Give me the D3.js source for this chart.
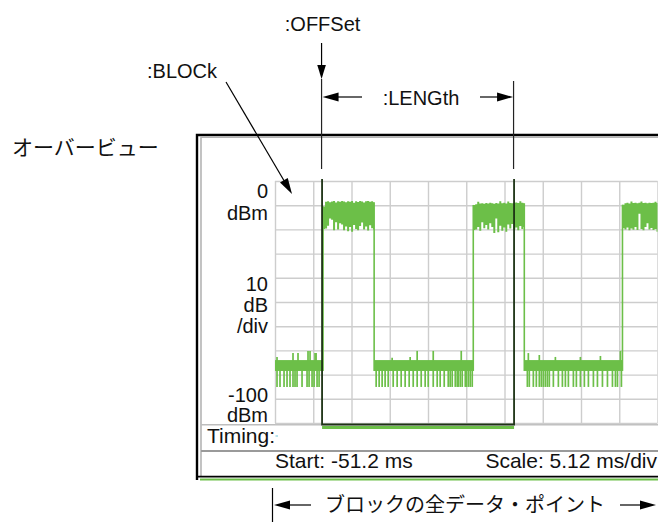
<!DOCTYPE html>
<html>
<head>
<meta charset="utf-8">
<script src="https://cdn.jsdelivr.net/npm/d3@7"></script>
<style>
  html, body { margin: 0; padding: 0; background: #fff; }
  svg { display: block; }
  text { font-family: "Liberation Sans", Arial, Helvetica, sans-serif; fill: #111; }
  .jp { font-family: "Noto Sans CJK JP", sans-serif; }
</style>
</head>
<body>
<svg id="chart" width="658" height="522"></svg>
<script>
// ---- Sweep settings ----
const timeStart = -51.2;      // ms
const timeScale = 5.12;       // ms/div
const timeDivisions = 10;
const levelRef = 0;           // dBm at top
const levelPerDiv = 10;       // dB/div
const levelDivisions = 10;

// ---- Labels ----
const levelLabelTop = ["0", "dBm"];
const levelLabelMid = ["10", "dB", "/div"];
const levelLabelBottom = ["-100", "dBm"];
const timingLabel = "Timing:";
const startLabel = "Start: -51.2 ms";
const scaleLabel = "Scale: 5.12 ms/div";
const overviewLabel = "オーバービュー";
const allPointsLabel = "ブロックの全データ・ポイント";
const offsetLabel = ":OFFSet";
const lengthLabel = ":LENGth";
const blockLabel = ":BLOCk";

// ---- Block markers (ms) ----
const blockOffset = -44.9;
const blockLength = 25.7;

// ---- Burst edges (ms) ----
const burstStart = [-44.77, -24.66, -4.69];
const burstEnd   = [-37.93, -17.83, 0];

// ---- Burst envelopes: [time ms, upper dBm, lower dBm] ----
const burst1 = [
  [-44.77, -10.5, -19.8], [-44.50, -8.6, -19.6], [-44.23, -8.4, -18.5], [-43.96, -8.8, -15.5],
  [-43.69, -8.5, -16.0], [-43.43, -8.3, -20.3], [-43.16, -8.9, -17.0], [-42.89, -8.4, -20.0],
  [-42.62, -8.6, -17.5], [-42.35, -8.3, -18.0], [-42.09, -8.5, -20.4], [-41.82, -8.8, -18.8],
  [-41.55, -8.4, -20.8], [-41.28, -8.6, -19.0], [-41.01, -8.3, -21.0], [-40.75, -9.0, -18.2],
  [-40.48, -8.4, -19.8], [-40.21, -8.7, -20.4], [-39.94, -8.3, -18.6], [-39.67, -8.5, -17.2],
  [-39.41, -8.9, -20.0], [-39.14, -8.4, -18.8], [-38.87, -8.3, -20.5], [-38.60, -8.6, -18.3],
  [-38.33, -8.4, -19.5], [-38.07, -8.8, -20.0]
];
const burst2 = [
  [-24.66, -9.9, -20.2], [-24.40, -9.6, -20.0], [-24.13, -8.6, -19.0], [-23.86, -9.3, -20.6],
  [-23.59, -9.2, -17.0], [-23.32, -9.4, -19.5], [-23.05, -9.1, -18.2], [-22.79, -9.3, -20.0],
  [-22.52, -9.0, -17.5], [-22.25, -9.2, -19.0], [-21.98, -9.4, -21.5], [-21.71, -9.1, -15.5],
  [-21.45, -9.3, -21.2], [-21.18, -8.4, -18.5], [-20.91, -9.2, -20.6], [-20.64, -9.0, -19.2],
  [-20.37, -9.3, -21.0], [-20.11, -8.5, -18.0], [-19.84, -9.1, -19.6], [-19.57, -9.2, -17.8],
  [-19.30, -9.0, -20.0], [-19.03, -8.9, -19.2], [-18.77, -9.1, -20.4], [-18.50, -8.4, -18.6],
  [-18.23, -9.0, -19.8], [-17.96, -9.2, -19.0]
];
const burst3 = [
  [-4.69, -9.8, -19.5], [-4.42, -9.2, -20.0], [-4.15, -9.0, -19.2], [-3.89, -9.3, -20.3],
  [-3.62, -8.5, -19.6], [-3.35, -9.1, -20.1], [-3.08, -9.0, -19.0], [-2.81, -9.2, -20.2],
  [-2.55, -9.0, -13.5], [-2.28, -8.5, -19.8], [-2.01, -9.1, -20.4], [-1.74, -9.0, -19.0],
  [-1.47, -9.2, -17.5], [-1.21, -9.0, -20.0], [-0.94, -9.1, -19.4], [-0.67, -9.0, -20.2],
  [-0.40, -8.6, -19.8], [-0.13, -9.1, -21.0]
];

// ---- Off-state floor ----
const floorUpper = -74.0;
const floorLower = -78.5;
const floorSegments = [[-51.2, -44.77], [-37.93, -24.66], [-17.83, -4.69]];
const floorDips = [
  -50.93, -50.53, -49.99, -49.59, -49.19, -48.79, -48.52, -48.25, -47.58, -46.91,
  -46.64, -46.24, -45.97, -45.57, -45.30,
  -37.66, -37.26, -36.86, -36.46, -36.05, -35.38, -34.85, -34.31, -33.78, -33.24,
  -32.70, -32.17, -31.63, -31.10, -30.69, -30.02, -29.49, -29.09, -28.55, -28.01,
  -27.75, -27.48, -27.07, -26.81, -26.67, -26.40, -26.14, -25.73, -25.60, -25.33,
  -25.07, -24.80,
  -17.42, -17.16, -16.62, -16.22, -15.82, -15.55, -15.28, -15.01, -14.74, -14.48,
  -13.94, -13.27, -12.73, -12.33, -11.93, -11.26, -10.86, -10.32, -9.79, -9.25,
  -8.58, -8.04, -7.37, -6.70, -6.03, -5.63, -5.36, -4.83
];
const floorDipLevel = -85.1;
const floorPeaks = [
  [-50.93, -72.7], [-48.79, -71.1], [-48.12, -71.1], [-46.78, -70.2], [-46.51, -70.2],
  [-45.84, -71.1], [-45.70, -71.1],
  [-35.52, -73.0], [-33.11, -72.7], [-32.17, -70.2], [-30.02, -70.2], [-26.27, -70.2],
  [-17.29, -71.1], [-15.82, -71.9], [-13.67, -72.7], [-10.32, -72.7], [-7.64, -72.3], [-4.96, -70.2]
];

// ---- Layout ----
const plot = { left: 275, right: 657.5, top: 181, bottom: 423 };
const green = "#6cbf48";
const markerColor = "#1d3315";
const gridColor = "#cdcdcd";

const svg = d3.select("#chart");

const x = d3.scaleLinear()
  .domain([timeStart, timeStart + timeScale * timeDivisions])
  .range([plot.left, plot.right]);
const y = d3.scaleLinear()
  .domain([levelRef - levelPerDiv * levelDivisions, levelRef])
  .range([plot.bottom, plot.top]);

// ---- Instrument frame ----
const frame = svg.append("g");
frame.append("path").attr("d", "M197,480V135H658")
  .attr("fill", "none").attr("stroke", "#000").attr("stroke-width", 2.4);
frame.append("path").attr("d", "M201,476V137.2H658")
  .attr("fill", "none").attr("stroke", "#b4b4b4").attr("stroke-width", 1.6);
frame.append("line").attr("x1", 201).attr("x2", 658).attr("y1", 424.8).attr("y2", 424.8)
  .attr("stroke", "#bdbdbd").attr("stroke-width", 1.5);
frame.append("line").attr("x1", 201).attr("x2", 658).attr("y1", 451).attr("y2", 451)
  .attr("stroke", "#9a9a9a").attr("stroke-width", 2);
frame.append("line").attr("x1", 196).attr("x2", 658).attr("y1", 476.6).attr("y2", 476.6)
  .attr("stroke", "#000").attr("stroke-width", 1.8);
frame.append("line").attr("x1", 200).attr("x2", 658).attr("y1", 479.6).attr("y2", 479.6)
  .attr("stroke", green).attr("stroke-width", 2);

// ---- Grid through the axes ----
const timeTicks = d3.range(timeDivisions + 1).map(i => timeStart + i * timeScale);
const levelTicks = d3.range(levelDivisions + 1).map(i => levelRef - i * levelPerDiv);

const gx = svg.append("g")
  .attr("transform", `translate(0,${plot.bottom})`)
  .call(d3.axisBottom(x).tickValues(timeTicks).tickSize(-(plot.bottom - plot.top)).tickFormat(""));
const gy = svg.append("g")
  .attr("transform", `translate(${plot.left},0)`)
  .call(d3.axisLeft(y).tickValues(levelTicks).tickSize(-(plot.right - plot.left)).tickFormat(""));
[gx, gy].forEach(g => {
  g.select(".domain").remove();
  g.selectAll(".tick line").attr("stroke", gridColor).attr("stroke-width", 1.4);
});

// ---- Level labels ----
const lab = svg.append("g").attr("text-anchor", "end").attr("font-size", 20);
levelLabelTop.forEach((t, i) =>
  lab.append("text").attr("x", 268).attr("y", y(0) + 17 + i * 22).text(t));
levelLabelMid.forEach((t, i) =>
  lab.append("text").attr("x", 268).attr("y", y(-40) + 13 + i * 21).text(t));
levelLabelBottom.forEach((t, i) =>
  lab.append("text").attr("x", 268).attr("y", y(-90) + 3 + i * 20).text(t));

// ---- Trace ----
const trace = svg.append("g");

// off-state floor
trace.selectAll("rect.floor").data(floorSegments).join("rect")
  .attr("class", "floor")
  .attr("x", d => x(d[0])).attr("width", d => x(d[1]) - x(d[0]))
  .attr("y", y(floorUpper)).attr("height", y(floorLower) - y(floorUpper))
  .attr("fill", green);
trace.selectAll("line.dip").data(floorDips).join("line")
  .attr("class", "dip")
  .attr("x1", d => x(d)).attr("x2", d => x(d))
  .attr("y1", y(floorLower) - 1).attr("y2", y(floorDipLevel))
  .attr("stroke", green).attr("stroke-width", 1.7);
trace.selectAll("line.peak").data(floorPeaks).join("line")
  .attr("class", "peak")
  .attr("x1", d => x(d[0])).attr("x2", d => x(d[0]))
  .attr("y1", y(floorUpper) + 1).attr("y2", d => y(d[1]))
  .attr("stroke", green).attr("stroke-width", 1.7);

// bursts
const area = d3.area()
  .x(d => x(d[0])).y0(d => y(d[2])).y1(d => y(d[1]))
  .curve(d3.curveStepAfter);
[burst1, burst2, burst3].forEach((b, i) => {
  const last = b[b.length - 1];
  const pts = b.concat([[burstEnd[i], last[1], last[2]]]);
  trace.append("path").attr("d", area(pts)).attr("fill", green);
});

// rising and falling edges
const edges = [];
burstStart.forEach((t, i) => edges.push({ t: t, top: [burst1, burst2, burst3][i][0][1] }));
burstEnd.forEach((t, i) => { if (t < 0) edges.push({ t: t, top: [burst1, burst2, burst3][i].slice(-1)[0][1] }); });
trace.selectAll("line.edge").data(edges).join("line")
  .attr("class", "edge")
  .attr("x1", d => x(d.t)).attr("x2", d => x(d.t))
  .attr("y1", y(floorLower)).attr("y2", d => y(d.top))
  .attr("stroke", green).attr("stroke-width", 1.6);

// ---- Block markers ----
const bx0 = x(blockOffset), bx1 = x(blockOffset + blockLength);
svg.append("line").attr("x1", bx0).attr("x2", bx1).attr("y1", plot.bottom + 4.5).attr("y2", plot.bottom + 4.5)
  .attr("stroke", green).attr("stroke-width", 3);
svg.append("path")
  .attr("d", `M${bx0},${plot.top - 2}V${plot.bottom + 1.5}H${bx1}V${plot.top - 2}`)
  .attr("fill", "none").attr("stroke", markerColor).attr("stroke-width", 1.8);

// ---- Timing readout ----
const ro = svg.append("g").attr("font-size", 21);
ro.append("text").attr("x", 207).attr("y", 443).text(timingLabel);
ro.append("line").attr("x1", 275.5).attr("x2", 278).attr("y1", 436).attr("y2", 436)
  .attr("stroke", "#6cc6d8").attr("stroke-width", 1);
ro.append("text").attr("x", 275).attr("y", 468).text(startLabel);
ro.append("text").attr("x", 657).attr("y", 468).attr("text-anchor", "end").text(scaleLabel);

// ---- Annotations ----
const ann = svg.append("g");
function arrowHead(tipX, tipY, dx, dy, len, half) {
  const n = Math.hypot(dx, dy), ux = dx / n, uy = dy / n;
  const bxp = tipX - ux * len, byp = tipY - uy * len;
  return `M${tipX},${tipY}L${bxp - uy * half},${byp + ux * half}L${bxp + uy * half},${byp - ux * half}Z`;
}
ann.append("text").attr("x", bx0 + 0.5).attr("y", 31).attr("text-anchor", "middle")
  .attr("font-size", 20).text(offsetLabel);
ann.append("line").attr("x1", bx0 - 0.5).attr("x2", bx0 - 0.5).attr("y1", 43).attr("y2", 68)
  .attr("stroke", "#000").attr("stroke-width", 1.2);
ann.append("path").attr("d", arrowHead(bx0 - 0.5, 79, 0, 1, 14, 4.3)).attr("fill", "#000");
ann.append("line").attr("x1", bx0 - 0.5).attr("x2", bx0 - 0.5).attr("y1", 79).attr("y2", 169)
  .attr("stroke", "#222").attr("stroke-width", 1.2);
ann.append("line").attr("x1", bx1 - 0.5).attr("x2", bx1 - 0.5).attr("y1", 81).attr("y2", 169)
  .attr("stroke", "#222").attr("stroke-width", 1.2);

ann.append("text").attr("x", 421).attr("y", 105).attr("text-anchor", "middle")
  .attr("font-size", 20).text(lengthLabel);
ann.append("line").attr("x1", bx0 + 10).attr("x2", 362).attr("y1", 97).attr("y2", 97)
  .attr("stroke", "#000").attr("stroke-width", 1.2);
ann.append("path").attr("d", arrowHead(bx0 + 0.5, 97, -1, 0, 16, 4.5)).attr("fill", "#000");
ann.append("line").attr("x1", 480).attr("x2", bx1 - 10).attr("y1", 97).attr("y2", 97)
  .attr("stroke", "#000").attr("stroke-width", 1.2);
ann.append("path").attr("d", arrowHead(bx1 - 1, 97, 1, 0, 16, 4.5)).attr("fill", "#000");

ann.append("text").attr("x", 147).attr("y", 78).attr("font-size", 20).text(blockLabel);
ann.append("line").attr("x1", 226).attr("y1", 82).attr("x2", 286).attr("y2", 184)
  .attr("stroke", "#000").attr("stroke-width", 1.2);
ann.append("path").attr("d", arrowHead(292, 194, 66, 112, 16, 4.5)).attr("fill", "#000");

ann.append("text").attr("class", "jp").attr("x", 12).attr("y", 146)
  .attr("dominant-baseline", "central").attr("font-size", 21).text(overviewLabel);

// span of all points in the block
ann.append("line").attr("x1", 272.5).attr("x2", 272.5).attr("y1", 488).attr("y2", 522)
  .attr("stroke", "#000").attr("stroke-width", 1.2);
ann.append("line").attr("x1", 285).attr("x2", 311).attr("y1", 505).attr("y2", 505)
  .attr("stroke", "#000").attr("stroke-width", 1.2);
ann.append("path").attr("d", arrowHead(274, 505, -1, 0, 16, 4.5)).attr("fill", "#000");
ann.append("line").attr("x1", 620).attr("x2", 645).attr("y1", 505).attr("y2", 505)
  .attr("stroke", "#000").attr("stroke-width", 1.2);
ann.append("path").attr("d", arrowHead(656, 505, 1, 0, 16, 4.5)).attr("fill", "#000");
ann.append("text").attr("class", "jp").attr("x", 325).attr("y", 503)
  .attr("dominant-baseline", "central").attr("font-size", 20).text(allPointsLabel);
</script>
</body>
</html>
